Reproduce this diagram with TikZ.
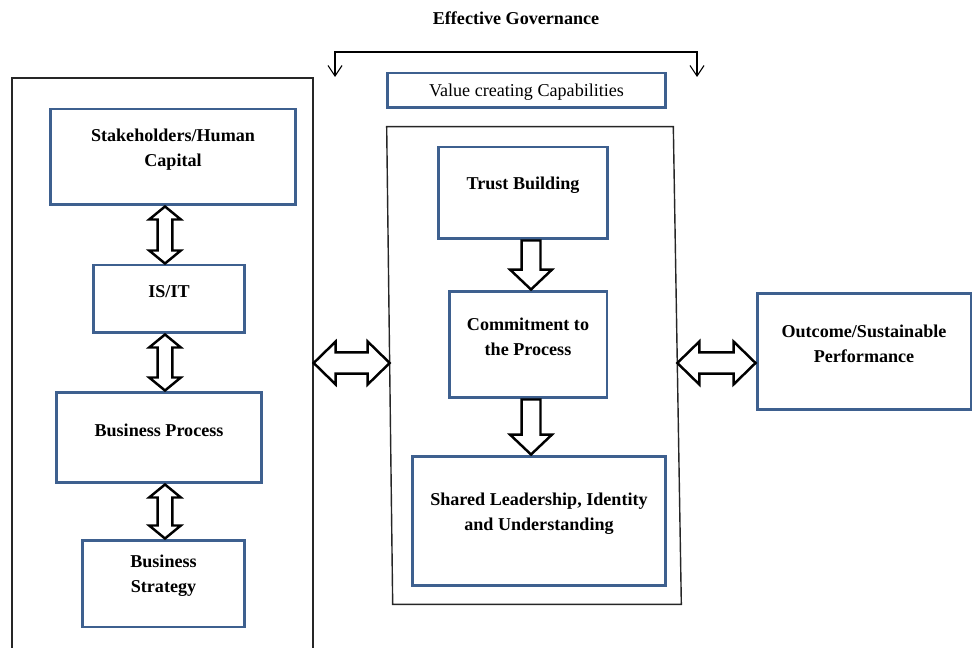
\documentclass[tikz,border=0pt]{standalone}
\usepackage{fontspec}
\setmainfont{Liberation Serif}
\usetikzlibrary{calc,arrows.meta}
\definecolor{boxblue}{RGB}{62,96,143}
\tikzset{
  capbox/.style={draw=boxblue, line width=1.7pt, inner sep=0pt},
  captext/.style={align=center, yshift=0.15cm, font=\bfseries\fontsize{10.3}{14.2}\selectfont},
  framebox/.style={draw=black!85, line width=0.8pt},
  blockarrow/.style={draw=black, fill=white, line width=1.4pt, line join=miter},
}
% vertical double block arrow, top to bottom
\newcommand{\vdbl}[2]{%
  \draw[blockarrow] let \p1=(#1), \p2=(#2) in
    (\x1,\y1) -- (\x1+9pt,\y1-7.4pt) -- (\x1+4.2pt,\y1-7.4pt) -- (\x1+4.2pt,\y2+7.4pt)
    -- (\x1+9pt,\y2+7.4pt) -- (\x1,\y2) -- (\x1-9pt,\y2+7.4pt) -- (\x1-4.2pt,\y2+7.4pt)
    -- (\x1-4.2pt,\y1-7.4pt) -- (\x1-9pt,\y1-7.4pt) -- cycle;}
% downward block arrow
\newcommand{\downarr}[2]{%
  \draw[blockarrow] let \p1=(#1), \p2=(#2) in
    (\x1-5.4pt,\y1) -- (\x1+5.4pt,\y1) -- (\x1+5.4pt,\y2+11.3pt) -- (\x1+11.9pt,\y2+11.3pt)
    -- (\x1,\y2) -- (\x1-11.9pt,\y2+11.3pt) -- (\x1-5.4pt,\y2+11.3pt) -- cycle;}
% horizontal double block arrow, left to right
\newcommand{\hdbl}[2]{%
  \draw[blockarrow] let \p1=(#1), \p2=(#2) in
    (\x1,\y1) -- (\x1+12.5pt,\y1+12.2pt) -- (\x1+12.5pt,\y1+6pt) -- (\x2-12.5pt,\y1+6pt)
    -- (\x2-12.5pt,\y1+12.2pt) -- (\x2,\y1) -- (\x2-12.5pt,\y1-12.2pt) -- (\x2-12.5pt,\y1-6pt)
    -- (\x1+12.5pt,\y1-6pt) -- (\x1+12.5pt,\y1-12.2pt) -- cycle;}
\begin{document}
\begin{tikzpicture}[x=0.02cm,y=-0.02cm]
  \useasboundingbox (0,0) rectangle (973,648);
  %% Governance bracket
  \node[font=\bfseries\fontsize{10.3}{12}\selectfont] (gov) at (516,18) {Effective Governance};
  \coordinate (govl) at (335,77);
  \coordinate (govr) at (697,77);
  \coordinate (govbar) at (516,52);
  \draw[line width=0.6pt, {Straight Barb[length=6pt,width=8pt]}-{Straight Barb[length=6pt,width=8pt]}]
    (govl) |- (govbar) -| (govr);
  \node[capbox, minimum width=5.58cm, minimum height=0.70cm, text depth=0pt,
    font=\fontsize{10.3}{12}\selectfont] (value) at (526.5,90.5) {Value creating Capabilities};
  %% Left frame
  \node[framebox, minimum width=6.02cm, minimum height=12.4cm] (lframe) at (162.5,388) {};
  \node[capbox, minimum width=4.92cm, minimum height=1.92cm,
    label={[captext]center:Stakeholders/Human\\Capital}] (stake) at (173,157) {};
  \node[capbox, minimum width=3.04cm, minimum height=1.36cm,
    label={[captext]center:IS/IT}] (isit) at (169,299) {};
  \node[capbox, minimum width=4.12cm, minimum height=1.82cm,
    label={[captext]center:Business Process}] (bproc) at (159,437.5) {};
  \node[capbox, minimum width=3.26cm, minimum height=1.74cm,
    label={[captext]center:Business\\Strategy}] (bstrat) at (163.5,583.5) {};
  \coordinate (lcol) at (165,0);
  \vdbl{stake.south -| lcol}{isit.north -| lcol}
  \vdbl{isit.south -| lcol}{bproc.north -| lcol}
  \vdbl{bproc.south -| lcol}{bstrat.north -| lcol}
  %% Middle frame
  \node[minimum width=5.74cm, minimum height=9.54cm] (mframe) at (533.5,365.5) {};
  \draw[framebox] ([xshift=-0.06cm]mframe.north west) -- ([xshift=-0.08cm]mframe.north east)
    -- ([xshift=0.08cm]mframe.south east) -- ([xshift=0.06cm]mframe.south west) -- cycle;
  \node[capbox, minimum width=3.40cm, minimum height=1.84cm,
    label={[captext]center:Trust Building}] (trust) at (523,193) {};
  \node[capbox, minimum width=3.16cm, minimum height=2.14cm,
    label={[captext]center:Commitment to\\the Process}] (commit) at (528,344.5) {};
  \node[capbox, minimum width=5.08cm, minimum height=2.60cm,
    label={[captext]center:Shared Leadership, Identity\\and Understanding}] (shared) at (539,521) {};
  \coordinate (mcol) at (531,0);
  \downarr{trust.south -| mcol}{commit.north -| mcol}
  \downarr{commit.south -| mcol}{shared.north -| mcol}
  %% Outcome
  \node[capbox, minimum width=4.28cm, minimum height=2.34cm,
    label={[captext]center:Outcome/Sustainable\\Performance}] (outcome) at (864,351.5) {};
  \coordinate (hrow) at (0,363);
  \hdbl{lframe.east |- hrow}{mframe.west |- hrow}
  \hdbl{mframe.east |- hrow}{outcome.west |- hrow}
\end{tikzpicture}
\end{document}
